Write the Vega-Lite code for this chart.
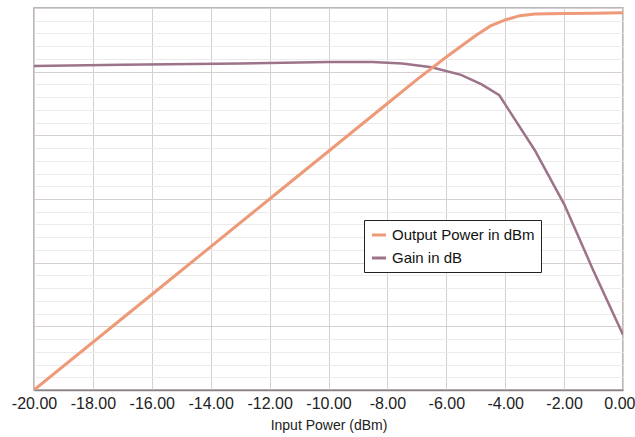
{
  "$schema": "https://vega.github.io/schema/vega-lite/v6.json",
  "width": 589,
  "height": 382,
  "autosize": {"type": "none"},
  "padding": {"left": 34, "top": 8, "right": 12, "bottom": 47},
  "background": "white",
  "config": {
    "view": {"stroke": "#a89f9f", "strokeWidth": 1.5},
    "font": "Liberation Sans"
  },
  "datasets": {
    "output": [
      {"input": -20, "value": 10.0, "series": "Output Power in dBm"},
      {"input": -16, "value": 14.0, "series": "Output Power in dBm"},
      {"input": -12, "value": 18.0, "series": "Output Power in dBm"},
      {"input": -8, "value": 22.0, "series": "Output Power in dBm"},
      {"input": -7, "value": 23.0, "series": "Output Power in dBm"},
      {"input": -6, "value": 23.95, "series": "Output Power in dBm"},
      {"input": -5, "value": 24.85, "series": "Output Power in dBm"},
      {"input": -4.5, "value": 25.25, "series": "Output Power in dBm"},
      {"input": -4, "value": 25.5, "series": "Output Power in dBm"},
      {"input": -3.5, "value": 25.68, "series": "Output Power in dBm"},
      {"input": -3, "value": 25.75, "series": "Output Power in dBm"},
      {"input": -2, "value": 25.77, "series": "Output Power in dBm"},
      {"input": -1, "value": 25.78, "series": "Output Power in dBm"},
      {"input": 0, "value": 25.8, "series": "Output Power in dBm"}
    ],
    "gain": [
      {"input": -20, "value": 30.09, "series": "Gain in dB"},
      {"input": -17, "value": 30.11, "series": "Gain in dB"},
      {"input": -13, "value": 30.13, "series": "Gain in dB"},
      {"input": -10, "value": 30.15, "series": "Gain in dB"},
      {"input": -8.5, "value": 30.15, "series": "Gain in dB"},
      {"input": -7.5, "value": 30.13, "series": "Gain in dB"},
      {"input": -6.5, "value": 30.07, "series": "Gain in dB"},
      {"input": -5.5, "value": 29.95, "series": "Gain in dB"},
      {"input": -4.8, "value": 29.8, "series": "Gain in dB"},
      {"input": -4.2, "value": 29.63, "series": "Gain in dB"},
      {"input": -3, "value": 28.77, "series": "Gain in dB"},
      {"input": -2, "value": 27.92, "series": "Gain in dB"},
      {"input": -1, "value": 26.87, "series": "Gain in dB"},
      {"input": 0, "value": 25.87, "series": "Gain in dB"}
    ]
  },
  "layer": [
    {
      "data": {"name": "gain"},
      "mark": {"type": "line", "strokeWidth": 2.5, "clip": true},
      "encoding": {
        "x": {
          "field": "input", "type": "quantitative",
          "scale": {"domain": [-20, 0], "nice": false, "zero": false},
          "axis": {
            "title": "Input Power (dBm)",
            "titleFont": "Liberation Sans",
            "titleFontSize": 14,
            "titleFontWeight": "normal",
            "titleColor": "#222",
            "titlePadding": 7,
            "values": [-20, -19.5, -19, -18.5, -18, -17.5, -17, -16.5, -16, -15.5, -15, -14.5, -14, -13.5, -13, -12.5, -12, -11.5, -11, -10.5, -10, -9.5, -9, -8.5, -8, -7.5, -7, -6.5, -6, -5.5, -5, -4.5, -4, -3.5, -3, -2.5, -2, -1.5, -1, -0.5, 0],
            "labelExpr": "datum.value % 2 === 0 ? (datum.value < 0 ? '-' : '') + format(abs(datum.value), '.2f') : ''",
            "labelFont": "Liberation Sans",
            "labelFontSize": 16,
            "labelColor": "#222",
            "labelFlush": false,
            "labelOverlap": false,
            "labelPadding": 5,
            "labelAlign": {"condition": {"test": "datum.value === 0", "value": "right"}, "value": "center"},
            "labelOffset": {"condition": {"test": "datum.value === 0", "value": 12}, "value": 0},
            "ticks": false,
            "domainColor": "#8a8484",
            "domainWidth": 1.5,
            "grid": true,
            "gridColor": {"condition": {"test": "datum.value % 2 === 0", "value": "#d6d0d0"}, "value": "#ecebeb"},
            "gridWidth": 1
          }
        },
        "y": {
          "field": "value", "type": "quantitative",
          "scale": {"domain": [25, 31], "nice": false, "zero": false},
          "axis": {
            "title": null,
            "labels": false,
            "ticks": false,
            "domain": false,
            "grid": true,
            "values": [25, 25.2, 25.4, 25.6, 25.8, 26, 26.2, 26.4, 26.6, 26.8, 27, 27.2, 27.4, 27.6, 27.8, 28, 28.2, 28.4, 28.6, 28.8, 29, 29.2, 29.4, 29.6, 29.8, 30, 30.2, 30.4, 30.6, 30.8, 31],
            "gridColor": {"condition": {"test": "abs(datum.value - round(datum.value)) < 0.01", "value": "#d6d0d0"}, "value": "#ecebeb"}
          }
        },
        "color": {
          "field": "series", "type": "nominal",
          "scale": {"domain": ["Output Power in dBm", "Gain in dB"], "range": ["#ee9a78", "#9c7389"]},
          "legend": {
            "title": null,
            "orient": "none",
            "legendX": 330,
            "legendY": 212,
            "direction": "vertical",
            "symbolType": "stroke",
            "symbolStrokeWidth": 3,
            "symbolSize": 200,
            "labelFont": "Liberation Sans",
            "labelFontSize": 15,
            "labelColor": "#111",
            "labelOffset": 4,
            "rowPadding": 6,
            "strokeColor": "#222",
            "fillColor": "white",
            "padding": 6
          }
        }
      }
    },
    {
      "data": {"name": "output"},
      "mark": {"type": "line", "strokeWidth": 3, "clip": true},
      "encoding": {
        "x": {"field": "input", "type": "quantitative", "scale": {"domain": [-20, 0], "nice": false, "zero": false}},
        "y": {
          "field": "value", "type": "quantitative",
          "scale": {"domain": [10, 26], "nice": false, "zero": false},
          "axis": null
        },
        "color": {"field": "series", "type": "nominal"}
      }
    }
  ],
  "resolve": {"scale": {"y": "independent", "color": "shared"}}
}
